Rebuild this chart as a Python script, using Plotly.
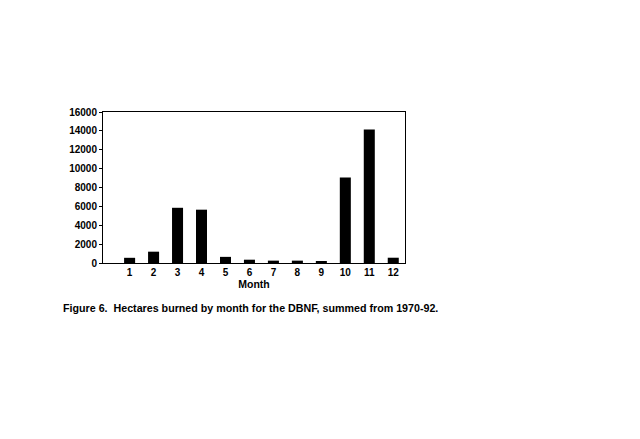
import plotly.graph_objects as go

months = [1, 2, 3, 4, 5, 6, 7, 8, 9, 10, 11, 12]
hectares = [550, 1200, 5850, 5650, 650, 350, 250, 250, 150, 9050, 14150, 560]
y_ticks = [0, 2000, 4000, 6000, 8000, 10000, 12000, 14000, 16000]

font = dict(family="Liberation Sans, Arial, sans-serif", size=10, color="black")

fig = go.Figure(go.Bar(x=months, y=hectares, marker=dict(color="black", line=dict(width=0)), width=0.46))

fig.update_layout(
    width=640, height=439,
    margin=dict(l=95, r=243, t=104, b=184),
    paper_bgcolor="white", plot_bgcolor="white",
    font=font, showlegend=False,
    xaxis=dict(range=[-0.11, 12.49], tickvals=months, ticktext=[f"<b>{m}</b>" for m in months],
               showline=True, linecolor="black", linewidth=1, mirror=True, ticks="",
               showgrid=False, zeroline=False,
               title=dict(text="<b>Month</b>", standoff=2,
                          font=dict(family=font["family"], size=10.5, color="black"))),
    yaxis=dict(range=[0, 16000], tickvals=y_ticks, ticktext=[f"<b>{v}</b>" for v in y_ticks],
               showline=True, linecolor="black", linewidth=1, mirror=True, ticks="outside",
               ticklen=3, tickcolor="black", showgrid=False, zeroline=False),
    annotations=[dict(text="<b>Figure 6.  Hectares burned by month for the DBNF, summed from 1970-92.</b>",
                      xref="paper", yref="paper", x=-0.14, y=-0.3, xanchor="left", yanchor="middle",
                      showarrow=False, font=dict(family=font["family"], size=10.7, color="black"))],
)

fig.write_html("out.html")
